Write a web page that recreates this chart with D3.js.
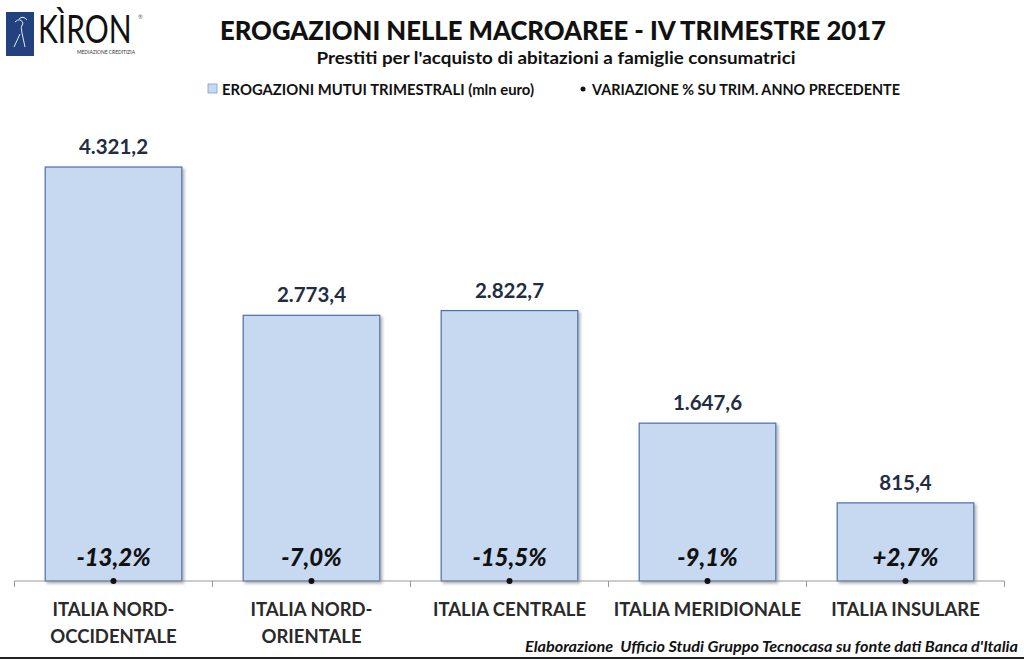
<!DOCTYPE html>
<html><head><meta charset="utf-8">
<script src="https://cdn.jsdelivr.net/npm/d3@7"></script>
<style>body{margin:0;background:#fff}svg{display:block}text{font-family:Lato,"Open Sans",sans-serif}</style>
</head><body><svg id="c" width="1024" height="660"></svg>
<script>
const categories = [["ITALIA NORD-","OCCIDENTALE"],["ITALIA NORD-","ORIENTALE"],["ITALIA CENTRALE"],["ITALIA MERIDIONALE"],["ITALIA INSULARE"]];
const erogazioni = [4321.2, 2773.4, 2822.7, 1647.6, 815.4];
const variazione = [-13.2, -7.0, -15.5, -9.1, 2.7];
const valueLabels = ["4.321,2","2.773,4","2.822,7","1.647,6","815,4"];
const varLabels = ["-13,2%","-7,0%","-15,5%","-9,1%","+2,7%"];

const svg = d3.select("#c");
const x = d3.scaleBand().domain(d3.range(categories.length)).range([14.5, 1004.5]).paddingInner(0.31).paddingOuter(0.155);
const y = d3.scaleLinear().domain([0, 5000]).range([581, 102]);

// logo
const logo = svg.append("g");
logo.append("rect").attr("x",6).attr("y",12).attr("width",28).attr("height",44).attr("fill","#23417f");
logo.append("path").attr("d","M15 22 q5 -5 8 1 q-3 4 -1 10 l3 14 M20 34 l-6 13 M19 19 q4 -4 8 1").attr("stroke","#e4eaf5").attr("fill","none").attr("stroke-width",1);
logo.append("text").attr("transform","translate(38,43) scale(1,1.27)").attr("font-size",30).attr("font-family","Liberation Sans, sans-serif").attr("fill","#111").text("KÌRON");
logo.append("text").attr("x",138).attr("y",19).attr("font-size",6).attr("fill","#666").text("®");
logo.append("text").attr("x",77).attr("y",54).attr("font-size",5).attr("fill","#333").attr("textLength",58).attr("lengthAdjust","spacingAndGlyphs").text("MEDIAZIONE CREDITIZIA");

// titles
svg.append("text").attr("x",553).attr("y",40).attr("text-anchor","middle").attr("font-size",26).attr("font-weight",900).attr("fill","#111").attr("textLength",666).attr("lengthAdjust","spacingAndGlyphs").text("EROGAZIONI NELLE MACROAREE - IV TRIMESTRE 2017");
svg.append("text").attr("x",556).attr("y",64).attr("text-anchor","middle").attr("font-size",17).attr("font-weight",700).attr("fill","#111").attr("textLength",479).attr("lengthAdjust","spacingAndGlyphs").text("Prestiti per l'acquisto di abitazioni a famiglie consumatrici");

// legend
svg.append("rect").attr("x",208).attr("y",84).attr("width",9).attr("height",9).attr("fill","#c6d9f1").attr("stroke","#7f9fcf").attr("stroke-width",0.8);
svg.append("text").attr("x",222).attr("y",94.5).attr("font-size",14.5).attr("font-weight",700).attr("fill","#111").attr("textLength",312).attr("lengthAdjust","spacingAndGlyphs").text("EROGAZIONI MUTUI TRIMESTRALI (mln euro)");
svg.append("circle").attr("cx",583).attr("cy",89).attr("r",2.5).attr("fill","#111");
svg.append("text").attr("x",592).attr("y",94.5).attr("font-size",14.5).attr("font-weight",700).attr("fill","#111").attr("textLength",308).attr("lengthAdjust","spacingAndGlyphs").text("VARIAZIONE % SU TRIM. ANNO PRECEDENTE");

// shadow filter
const defs = svg.append("defs");
const f = defs.append("filter").attr("id","sh").attr("x","-10%").attr("y","-10%").attr("width","130%").attr("height","130%");
f.append("feDropShadow").attr("dx",2).attr("dy",2).attr("stdDeviation",1.5).attr("flood-color","#000").attr("flood-opacity",0.3);

// bars
svg.selectAll(".bar").data(erogazioni).join("rect").attr("class","bar")
  .attr("x",(d,i)=>x(i)).attr("y",d=>y(d)).attr("width",x.bandwidth()).attr("height",d=>y(0)-y(d))
  .attr("fill","#c6d9f1").attr("stroke","#4a70ab").attr("stroke-width",1.2).attr("filter","url(#sh)");

// axis
const axis = svg.append("g").attr("transform","translate(0,581)");
axis.append("line").attr("x1",14.5).attr("x2",1004.5).attr("stroke","#999").attr("stroke-width",1);
const bounds = d3.range(categories.length+1).map(i => i<categories.length ? x(i)-x.step()*x.paddingInner()/2 : 1004.5);
axis.selectAll(".tk").data(bounds).join("line").attr("x1",d=>d).attr("x2",d=>d).attr("y1",0).attr("y2",6).attr("stroke","#999");

// value labels
svg.selectAll(".vl").data(erogazioni).join("text").attr("class","vl")
  .attr("x",(d,i)=>x(i)+x.bandwidth()/2).attr("y",d=>y(d)-13).attr("text-anchor","middle")
  .attr("font-size",20.5).attr("font-weight",700).attr("fill","#1f2d45").text((d,i)=>valueLabels[i]);

// variazione dots and labels
svg.selectAll(".dot").data(variazione).join("circle").attr("class","dot")
  .attr("cx",(d,i)=>x(i)+x.bandwidth()/2).attr("cy",581).attr("r",3).attr("fill","#111");
svg.selectAll(".pl").data(variazione).join("text").attr("class","pl")
  .attr("x",(d,i)=>x(i)+x.bandwidth()/2).attr("y",566).attr("text-anchor","middle")
  .attr("font-size",24).attr("font-weight",900).attr("font-style","italic").attr("fill","#111").text((d,i)=>varLabels[i]);

// category labels
const cl = svg.selectAll(".cl").data(categories).join("text").attr("class","cl")
  .attr("x",(d,i)=>x(i)+x.bandwidth()/2).attr("y",616).attr("text-anchor","middle")
  .attr("font-size",18.5).attr("font-weight",700).attr("fill","#2a2a2a");
cl.selectAll("tspan").data(d=>d).join("tspan").attr("x",function(){return this.parentNode.getAttribute("x");}).attr("dy",(d,j)=>j===0?0:27).text(d=>d);

// footer
svg.append("text").attr("x",1018).attr("y",652).attr("text-anchor","end").attr("font-size",15).attr("font-weight",700).attr("font-style","italic").attr("fill","#111").attr("textLength",493).attr("lengthAdjust","spacingAndGlyphs").style("white-space","pre").text("Elaborazione  Ufficio Studi Gruppo Tecnocasa su fonte dati Banca d'Italia");
svg.append("line").attr("x1",0).attr("x2",1024).attr("y1",658).attr("y2",658).attr("stroke","#222").attr("stroke-width",2);
</script></body></html>
